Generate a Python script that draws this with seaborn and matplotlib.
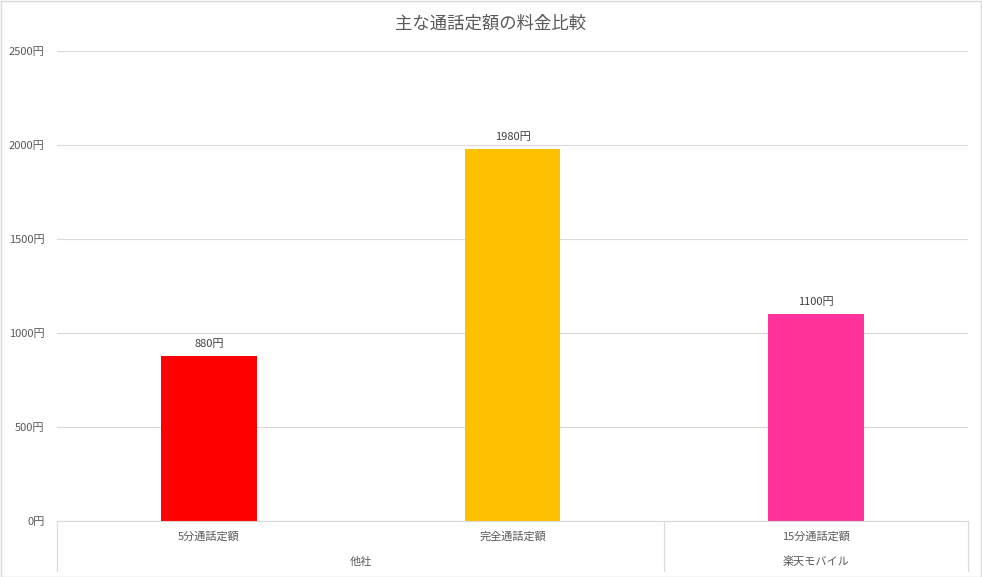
import matplotlib
matplotlib.use("Agg")
import matplotlib.pyplot as plt
import seaborn as sns
import pandas as pd
from matplotlib.patches import Rectangle
from matplotlib.lines import Line2D
import matplotlib.transforms as mtransforms

categories = ["5分通話定額", "完全通話定額", "15分通話定額"]
values = [880, 1980, 1100]
groups = ["他社", "他社", "楽天モバイル"]
colors = ["#FF0000", "#FFC000", "#FF3399"]
yticks = [0, 500, 1000, 1500, 2000, 2500]
title = "主な通話定額の料金比較"

sns.set_theme(style="white")
plt.rcParams['font.family'] = ['Noto Sans CJK JP', 'DejaVu Sans']

df = pd.DataFrame({"cat": categories, "val": values, "grp": groups})

W, H = 982, 577
fig = plt.figure(figsize=(W / 100, H / 100), dpi=100)
ax = fig.add_axes([57 / W, (H - 521) / H, (968 - 57) / W, (521 - 51) / H])

sns.barplot(data=df, x="cat", y="val", hue="cat", palette=colors, dodge=False,
            width=0.315, legend=False, ax=ax, saturation=1, linewidth=0)

ax.set_ylim(0, 2500)
ax.set_xlim(-0.5, 2.5)
ax.set_yticks(yticks)
ax.set_yticklabels([f"{v}円" for v in yticks], fontsize=8, color="#595959")
ax.yaxis.grid(True, color="#d9d9d9", linewidth=0.8)
ax.set_axisbelow(True)
ax.tick_params(axis="y", length=0, pad=9)
ax.tick_params(axis="x", length=0)
ax.set_xticklabels([])
ax.set_xlabel("")
ax.set_ylabel("")
for s in ["top", "right", "left"]:
    ax.spines[s].set_visible(False)
ax.spines["bottom"].set_color("#d9d9d9")
ax.spines["bottom"].set_linewidth(0.8)

# value labels
for i, v in enumerate(values):
    ax.annotate(f"{v}円", (i, v), xytext=(0, 5), textcoords="offset points",
                ha="center", va="bottom", fontsize=8, color="#404040")

# category axis with two levels
trans = mtransforms.blended_transform_factory(ax.transData, ax.transAxes)
px = 1 / (521 - 51)
for i, c in enumerate(categories):
    ax.text(i, -16 * px, c, transform=trans, ha="center", va="center",
            fontsize=8, color="#595959")
# group labels
grp_order = []
for g in groups:
    if g not in grp_order:
        grp_order.append(g)
for g in grp_order:
    idx = [i for i, gg in enumerate(groups) if gg == g]
    center = (min(idx) + max(idx)) / 2
    ax.text(center, -41 * px, g, transform=trans, ha="center", va="center",
            fontsize=8, color="#595959")
# separators
bounds = [-0.5]
for k in range(1, len(groups)):
    if groups[k] != groups[k - 1]:
        bounds.append(k - 0.5)
bounds.append(len(groups) - 0.5)
for b in bounds:
    ax.add_line(Line2D([b, b], [0, -50 * px], transform=trans, color="#d9d9d9",
                       linewidth=0.8, clip_on=False))

fig.text(0.5, (H - 24) / H, title, ha="center", va="center", fontsize=12.5, color="#595959")
fig.patches.append(Rectangle((0.5 / W, 0.5 / H), 1 - 1.5 / W, 1 - 1.5 / H, transform=fig.transFigure,
                             fill=False, edgecolor="#d9d9d9", linewidth=1))

fig.savefig("out.png", dpi=100)
